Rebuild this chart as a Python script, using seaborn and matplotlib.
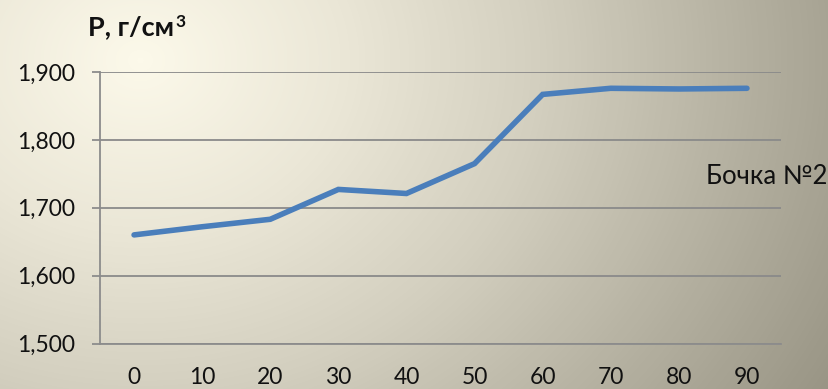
import numpy as np
import pandas as pd
import matplotlib
matplotlib.use("Agg")
import matplotlib.pyplot as plt
from matplotlib.colors import LinearSegmentedColormap
from matplotlib.ticker import FuncFormatter, FixedLocator
import seaborn as sns

# Measured density over time
times = ["0", "10", "20", "30", "40", "50", "60", "70", "80", "90"]
density = [1660, 1672, 1683, 1727, 1721, 1765, 1867, 1876, 1875, 1876]
series_name = "Бочка №2"
y_title = "P, г/см"
y_title_power = "3"
y_ticks = [1500, 1600, 1700, 1800, 1900]

sns.set_theme(style="white")
plt.rcParams["font.family"] = ["Lato", "DejaVu Sans"]

W, H, DPI = 829, 389, 100
fig = plt.figure(figsize=(W / DPI, H / DPI), dpi=DPI)

# Radial cream-to-grey backdrop
bg = fig.add_axes([0, 0, 1, 1], zorder=0)
yy, xx = np.mgrid[0:H, 0:W]
r = np.hypot(xx - 140, (yy - 60) * 1.2)
t = np.clip(r / 800, 0, 1)
cmap = LinearSegmentedColormap.from_list(
    "bg", ["#fcf9ea", "#ebe7d7", "#d3cfbf", "#b5b1a1", "#989484"])
bg.imshow(t, cmap=cmap, vmin=0, vmax=1, aspect="auto", interpolation="bilinear")
bg.set_axis_off()

ax = fig.add_axes([100 / W, 1 - 343.5 / H, 681 / W, 271.5 / H], zorder=1)
ax.set_facecolor("none")

df = pd.DataFrame({"time": pd.Categorical(times, categories=times, ordered=True),
                   "density": density})
sns.lineplot(data=df, x="time", y="density", ax=ax, color="#4a7ebb",
             linewidth=4.0, sort=False, solid_capstyle="round",
             solid_joinstyle="miter")

ax.set_xlim(-0.5, len(times) - 0.5)
ax.set_ylim(y_ticks[0], y_ticks[-1])
ax.yaxis.set_major_locator(FixedLocator(y_ticks))
ax.yaxis.set_major_formatter(FuncFormatter(lambda v, p: f"{v:,.0f}"))
ax.grid(axis="y", color="#8a8a8a", linewidth=1.3)
ax.grid(axis="x", visible=False)

grey = "#8c8c8c"
for side in ("top", "right"):
    ax.spines[side].set_visible(False)
for side in ("left", "bottom"):
    ax.spines[side].set_color(grey)
    ax.spines[side].set_linewidth(1.3)

# Category labels centred, tick marks between categories
ax.set_xticks(range(len(times)))
ax.set_xticklabels(times)
ax.set_xticks(np.arange(-0.5, len(times)), minor=True)
ax.tick_params(axis="x", which="major", length=0, pad=17, labelsize=16.5,
               labelcolor="#111111")
ax.tick_params(axis="x", which="minor", length=6, width=1.3, color=grey,
               direction="out")
ax.tick_params(axis="y", which="major", length=6, width=1.3, color=grey,
               direction="out", left=True, pad=12, labelsize=16.5,
               labelcolor="#111111")
ax.set_xlabel("")
ax.set_ylabel("")

# Axis title with a raised power sign
title = fig.text(88 / W, 1 - 35 / H, y_title, fontsize=19.5, fontweight="bold",
                 ha="left", va="baseline", color="#111111")
renderer = fig.canvas.get_renderer()
bb = title.get_window_extent(renderer)
fig.text((bb.x1 + 1) / W, 1 - 27 / H, y_title_power, fontsize=12.5,
         fontweight="bold", ha="left", va="baseline", color="#111111")

fig.text(827 / W, 1 - 177 / H, series_name, fontsize=18.5, ha="right",
         va="center", color="#111111")

fig.savefig("out.png", dpi=DPI)
